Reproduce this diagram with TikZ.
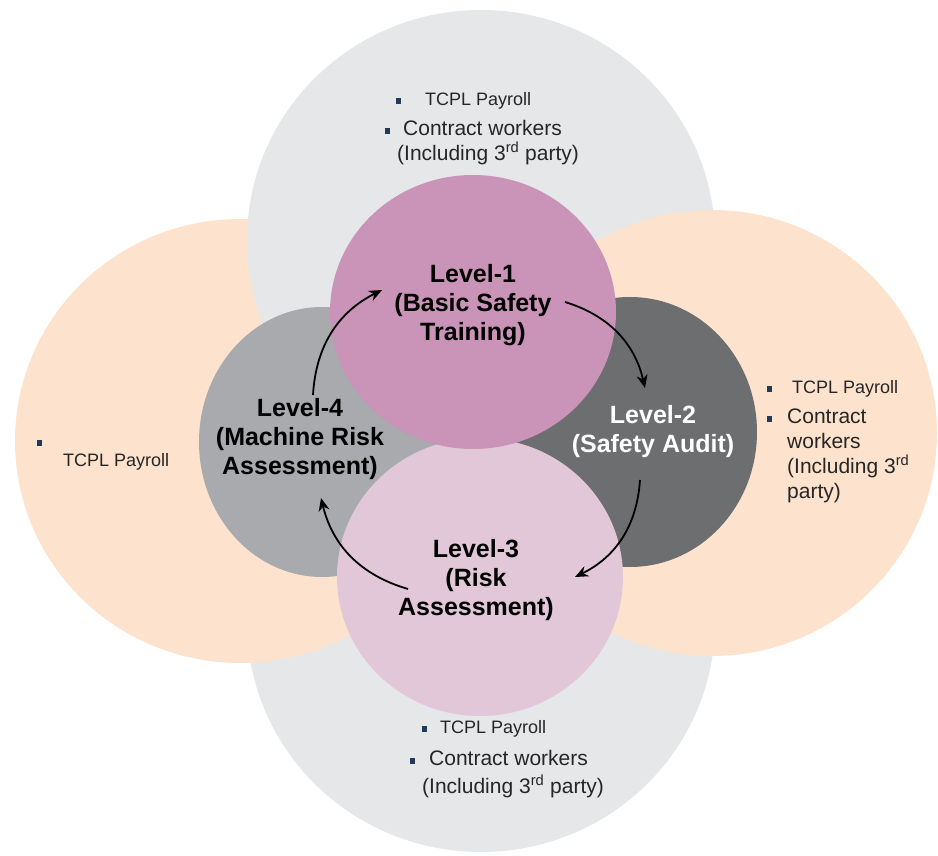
\documentclass[tikz,border=0pt]{standalone}
\usepackage{fontspec}
\setmainfont{Liberation Sans}
\usetikzlibrary{shapes.geometric,arrows.meta,positioning}
\definecolor{outergrey}{HTML}{E6E7E8}
\definecolor{peach}{HTML}{FDE3CD}
\definecolor{lvone}{HTML}{CA93B8}
\definecolor{lvtwo}{HTML}{6D6E70}
\definecolor{lvthree}{HTML}{E2C7D9}
\definecolor{lvfour}{HTML}{A8AAAD}
\definecolor{bulletc}{HTML}{1F3B57}
\newcommand{\sqb}{{\color{bulletc}\rule[1.5pt]{5pt}{6pt}}}
\newcommand{\payfont}{\fontsize{18}{25}\selectfont}
\newcommand{\listfont}{\fontsize{21}{25}\selectfont}
\tikzset{
  blob/.style={ellipse,inner sep=0pt,draw=none},
  lvtext/.style={align=center,inner sep=0pt,font=\bfseries\fontsize{25}{29}\selectfont},
  listtext/.style={align=left,inner sep=0pt,text=black!85,anchor=north west,font=\listfont},
  cyc/.style={-{Stealth[length=13pt,width=11pt]},line width=1.8pt,bend left=30}
}
\begin{document}
\begin{tikzpicture}[x=1pt,y=1pt]
\useasboundingbox (0,0) rectangle (938,855);
\clip (0,0) rectangle (938,855);
% outer rings
\node[blob,fill=outergrey,minimum width=468pt,minimum height=460pt] (botgrey) at (481,233) {};
\node[blob,fill=peach,minimum width=450pt,minimum height=444pt] (leftpeach) at (240,414) {};
\node[blob,fill=outergrey,minimum width=468pt,minimum height=460pt] (topgrey) at (481,615) {};
\node[blob,fill=peach,minimum width=450pt,minimum height=446pt] (rightpeach) at (712,422) {};
% levels
\node[blob,fill=lvfour,minimum width=246pt,minimum height=270pt] (lvfourc) at (322,413) {};
\node[blob,fill=lvtwo,minimum width=254pt,minimum height=270pt] (lvtwoc) at (630,423) {};
\node[blob,fill=lvthree,minimum width=286pt,minimum height=278pt] (lvthreec) at (480,278) {};
\node[blob,fill=lvone,minimum width=286pt,minimum height=274pt] (lvonec) at (473,543) {};
\node[lvtext] (lvonet) at ([yshift=7pt]lvonec.center) {Level-1\\(Basic Safety\\Training)};
\node[lvtext,text=white] (lvtwot) at ([xshift=23pt]lvtwoc.center) {Level-2\\(Safety Audit)};
\node[lvtext] (lvthreet) at ([xshift=-4pt,yshift=-3pt]lvthreec.center) {Level-3\\(Risk\\Assessment)};
\node[lvtext] (lvfourt) at ([xshift=-22pt,yshift=3pt]lvfourc.center) {Level-4\\(Machine Risk\\Assessment)};
% cycle
\draw[cyc] ([shift={(-9,47)}]lvfourc.center) to ([shift={(-91,22)}]lvonec.center);
\draw[cyc] ([shift={(92,10)}]lvonec.center) to ([shift={(15,44)}]lvtwoc.center);
\draw[cyc] ([shift={(10,-48)}]lvtwoc.center) to ([shift={(95,0)}]lvthreec.center);
\draw[cyc] ([shift={(-72,-12)}]lvthreec.center) to ([shift={(-1,-56)}]lvfourc.center);
% who is covered
\node[listtext] (toplist) at (385,763) {{\payfont\hspace*{11pt}\sqb\hspace{24pt}TCPL Payroll}\\[5pt]
  \sqb\hspace{13pt}Contract workers\\
  \hspace*{12pt}(Including 3\textsuperscript{rd} party)};
\node[listtext] (rightlist) at (767,475) {{\payfont\sqb\hspace{20pt}TCPL Payroll}\\[5pt]
  \sqb\hspace{15pt}Contract\\
  \hspace*{20pt}workers\\
  \hspace*{20pt}(Including 3\textsuperscript{rd}\\
  \hspace*{20pt}party)};
\node[listtext] (botlist) at (410,135) {{\payfont\hspace*{12pt}\sqb\hspace{13pt}TCPL Payroll}\\[7pt]
  \sqb\hspace{14pt}Contract workers\\[3pt]
  \hspace*{12pt}(Including 3\textsuperscript{rd} party)};
\node[listtext,font=\payfont] (leftlist) at (37,415) {\sqb\\[-6pt]
  \hspace*{26pt}TCPL Payroll};
\end{tikzpicture}
\end{document}
